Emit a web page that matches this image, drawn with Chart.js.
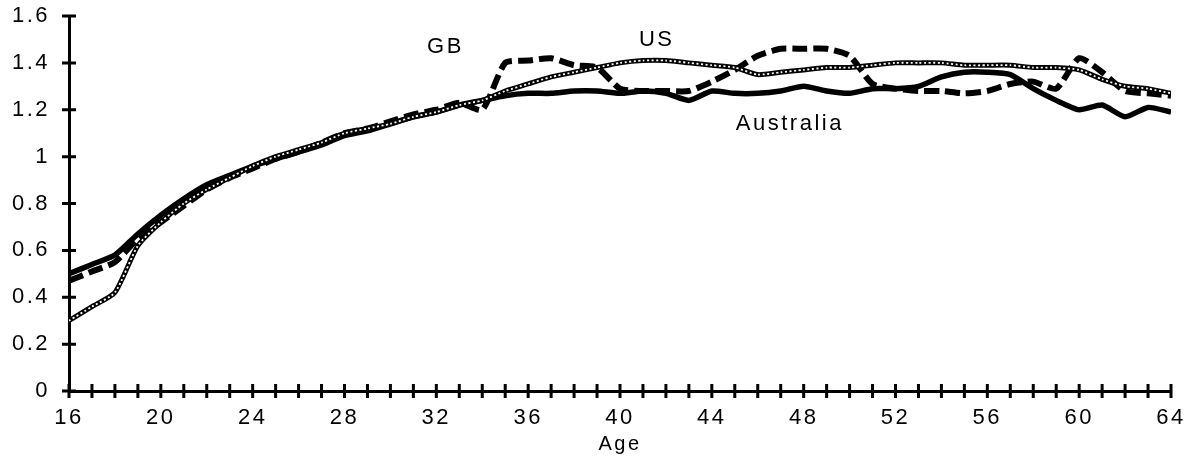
<!DOCTYPE html>
<html>
<head>
<meta charset="utf-8">
<script src="https://cdn.jsdelivr.net/npm/chart.js@4"></script>
<style>
  html, body { margin: 0; padding: 0; background: #fff; }
  #wrap { width: 1203px; height: 473px; }
</style>
</head>
<body>
<div id="wrap"><canvas id="myChart" width="1203" height="473"></canvas></div>
<script>
var ages = [16,17,18,19,20,21,22,23,24,25,26,27,28,29,30,31,32,33,34,35,36,37,38,39,40,
            41,42,43,44,45,46,47,48,49,50,51,52,53,54,55,56,57,58,59,60,61,62,63,64];

var australia = [0.50,0.54,0.58,0.67,0.75,0.82,0.88,0.92,0.96,0.99,1.02,1.05,1.09,1.11,1.14,1.17,1.19,1.22,1.24,1.26,
                 1.27,1.27,1.28,1.28,1.27,1.28,1.27,1.24,1.28,1.27,1.27,1.28,1.30,1.28,1.27,1.29,1.29,1.30,1.34,1.36,
                 1.36,1.35,1.29,1.24,1.20,1.22,1.17,1.21,1.19];

var gb = [0.47,0.51,0.55,0.65,0.72,0.79,0.86,0.91,0.95,0.99,1.02,1.06,1.10,1.12,1.15,1.18,1.20,1.23,1.20,1.40,
          1.41,1.42,1.39,1.38,1.29,1.28,1.28,1.28,1.32,1.37,1.43,1.46,1.46,1.46,1.43,1.31,1.29,1.28,1.28,1.27,
          1.28,1.31,1.32,1.29,1.42,1.36,1.28,1.27,1.26];

var us = [0.30,0.36,0.42,0.62,0.72,0.80,0.86,0.91,0.96,1.00,1.03,1.06,1.10,1.12,1.14,1.17,1.19,1.22,1.24,1.28,
          1.31,1.34,1.36,1.38,1.40,1.41,1.41,1.40,1.39,1.38,1.35,1.36,1.37,1.38,1.38,1.39,1.40,1.40,1.40,1.39,
          1.39,1.39,1.38,1.38,1.37,1.33,1.30,1.29,1.27];

var yTicks = [0, 0.2, 0.4, 0.6, 0.8, 1, 1.2, 1.4, 1.6];

// series labels placed in data coordinates
var labelNames = ['GB', 'US', 'Australia'];
var labelAges = [32.4, 41.6, 47.4];
var labelVals = [1.47, 1.50, 1.14];

function pts(vals) {
    return ages.map(function (a, i) { return {x: a, y: vals[i]}; });
}

var fontFamily = '"Liberation Sans", Arial, Helvetica, sans-serif';
var textColor = '#000';

function spacing(chart) { chart.ctx.letterSpacing = '2.5px'; }

// wide letter spacing, crossing tick marks + series labels
var extras = {
    id: 'extras',
    beforeUpdate: spacing,
    beforeLayout: spacing,
    beforeDraw: spacing,
    afterDraw: function (chart) {
        var c = chart.ctx;
        var xs = chart.scales.x, ys = chart.scales.y;
        var ax = xs.getPixelForValue(16), ay = ys.getPixelForValue(0);
        c.save();
        c.strokeStyle = '#000';
        c.lineWidth = 3;
        c.beginPath();
        ages.forEach(function (a) {
            var px = xs.getPixelForValue(a);
            c.moveTo(px, ay - 7);
            c.lineTo(px, ay + 7);
        });
        yTicks.forEach(function (v) {
            var py = ys.getPixelForValue(v);
            c.moveTo(ax - 7, py);
            c.lineTo(ax + 7, py);
        });
        c.stroke();

        c.fillStyle = textColor;
        c.font = '22px ' + fontFamily;
        c.letterSpacing = '2.5px';
        c.textAlign = 'center';
        c.textBaseline = 'middle';
        labelNames.forEach(function (n, i) {
            c.fillText(n, xs.getPixelForValue(labelAges[i]), ys.getPixelForValue(labelVals[i]));
        });
        c.restore();
    }
};

var ctx = document.getElementById('myChart');

new Chart(ctx, {
    type: 'line',
    data: {
        datasets: [{
            label: 'US',
            data: pts(us),
            borderColor: '#fff',
            borderWidth: 1.8,
            borderDash: [2, 2.5],
            pointRadius: 0,
            tension: 0.2
        }, {
            label: 'US',
            data: pts(us),
            borderColor: '#000',
            borderWidth: 5,
            pointRadius: 0,
            tension: 0.2
        }, {
            label: 'GB',
            data: pts(gb),
            borderColor: '#000',
            borderWidth: 6,
            borderDash: [15, 6],
            pointRadius: 0,
            tension: 0.2
        }, {
            label: 'Australia',
            data: pts(australia),
            borderColor: '#000',
            borderWidth: 5.5,
            pointRadius: 0,
            tension: 0.2
        }]
    },
    options: {
        responsive: false,
        animation: false,
        layout: { padding: { top: 16, right: 32, left: 0, bottom: 0 } },
        scales: {
            x: {
                type: 'linear',
                min: 16,
                max: 64,
                afterFit: function (s) { s.height = 82; },
                grid: { display: false, drawTicks: false },
                border: { display: true, color: '#000', width: 3 },
                ticks: {
                    stepSize: 4,
                    padding: 14,
                    color: textColor,
                    font: { family: fontFamily, size: 22 },
                    callback: function (v) { return v; }
                },
                title: {
                    display: true,
                    text: 'Age',
                    color: textColor,
                    font: { family: fontFamily, size: 20 },
                    padding: { top: 4, bottom: 17 }
                }
            },
            y: {
                min: 0,
                max: 1.6,
                afterFit: function (s) {
                    s.width = 69;
                    s.paddingTop = 8;
                    s.paddingBottom = 0;
                },
                grid: { display: false, drawTicks: false },
                border: { display: true, color: '#000', width: 3 },
                ticks: {
                    stepSize: 0.2,
                    padding: 19,
                    color: textColor,
                    font: { family: fontFamily, size: 22 },
                    callback: function (v) { return String(Number(v.toFixed(1))); }
                }
            }
        },
        plugins: {
            legend: { display: false },
            tooltip: { enabled: false }
        }
    },
    plugins: [extras]
});
</script>
</body>
</html>
